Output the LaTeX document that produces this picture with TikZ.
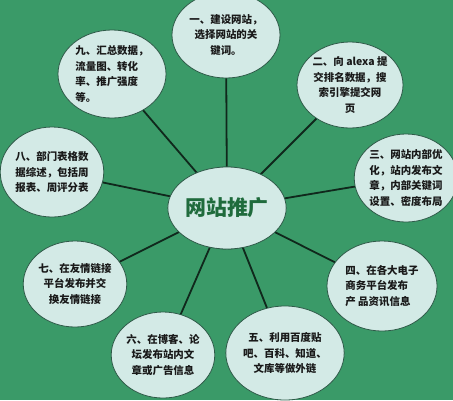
\documentclass[tikz,border=0pt]{standalone}
\usepackage{fontspec}
\newfontfamily\cjk{Noto Sans CJK SC}
\usetikzlibrary{shapes.geometric}
\definecolor{bggreen}{HTML}{3A9A68}
\definecolor{bubble}{HTML}{D3EAE6}
\definecolor{rim}{HTML}{2E5A48}
\definecolor{spoke}{HTML}{10281C}
\definecolor{titlegreen}{HTML}{1F6B3C}
\tikzset{
  bubblenode/.style={ellipse, draw=rim, line width=0.8pt, fill=bubble, inner sep=0pt,
    font=\cjk\bfseries\fontsize{10.5}{15.5}\selectfont, text=black!90},
  spokeline/.style={draw=spoke, line width=1.8pt},
}
\begin{document}
\begin{tikzpicture}[x=1bp,y=-1bp]
\useasboundingbox (0,0) rectangle (453,400);
\fill[bggreen] (0,0) rectangle (453,400);
\node[bubblenode, minimum width=100bp, minimum height=82bp] (c) at (227,208) {};
\node[bubblenode, minimum width=108bp, minimum height=86bp, align=center] (n1) at (226,35) {一、建设网站，\\选择网站的关\\键词。};
\node[bubblenode, minimum width=104bp, minimum height=86bp, align=center] (n2) at (350,85) {二、向 alexa 提\\交排名数据，搜\\索引擎提交网\\页};
\node[bubblenode, minimum width=102bp, minimum height=88bp, align=left] (n3) at (406,178) {三、网站内部优\\化，站内发布文\\章，内部关键词\\设置、密度布局};
\node[bubblenode, minimum width=110bp, minimum height=90bp, align=left] (n4) at (382,286) {四、在各大电子\\商务平台发布\\产 品资讯信息};
\node[bubblenode, minimum width=100bp, minimum height=94bp, align=center] (n5) at (285,353) {五、利用百度贴\\吧、百科、知道、\\文库等做外链};
\node[bubblenode, minimum width=100bp, minimum height=86bp, align=center] (n6) at (163,355) {六、在博客、论\\坛发布站内文\\章或广告信息};
\node[bubblenode, minimum width=100bp, minimum height=86bp, align=center] (n7) at (75,284) {七、在友情链接\\平台发布并交\\换友情链接};
\node[bubblenode, minimum width=100bp, minimum height=90bp, align=left] (n8) at (52,172) {八、部门表格数\\据综述，包括周\\报表、周评分表};
\node[bubblenode, minimum width=108bp, minimum height=88bp, align=left] (n9) at (112,74) {九、汇总数据，\\流量图、转化\\率、推广强度\\等。};
\foreach \n in {n1,n2,n3,n4,n5,n6,n7,n8,n9} \draw[spokeline] (c) -- (\n);
\node[bubblenode, minimum width=100bp, minimum height=82bp, text=titlegreen,
  font=\cjk\bfseries\fontsize{21}{24}\selectfont] (ct) at (c) {网站推广};
\end{tikzpicture}
\end{document}
